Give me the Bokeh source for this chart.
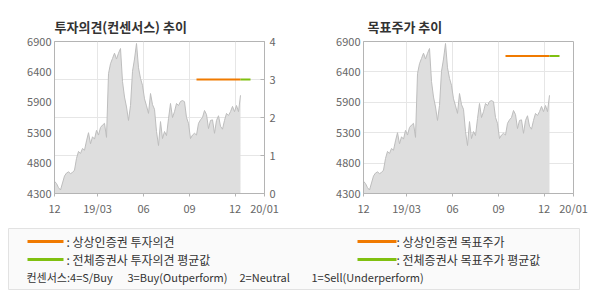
import numpy as np
import pandas as pd
from bokeh.plotting import figure
from bokeh.models import Range1d, LinearAxis, FixedTicker, Grid, ColumnDataSource
from bokeh.layouts import column, row
from bokeh.core.properties import value
from bokeh.embed import file_html
from bokeh.resources import INLINE

# ---------------- data ----------------
start_date = "2018-12-05"
price = [4510, 4470, 4400, 4360, 4480, 4600, 4650, 4670, 4640, 4660,
         4700, 4900, 5020, 4985, 5070, 5040, 5200, 5340, 5150, 5270,
         5230, 5380, 5300, 5430, 5470, 5500, 5260, 6350, 6520, 6610,
         6700, 6600, 6700, 6780, 6216, 5950, 5780, 5550, 5805, 6390,
         6600, 6866, 6450, 6270, 6150, 5920, 5800, 5670, 6010, 5820,
         5740, 5360, 5120, 5530, 5240, 5360, 5290, 5580, 5840, 5600,
         5700, 5840, 5805, 5874, 5890, 5870, 5600, 5500, 5240, 5300,
         5330, 5300, 5500, 5560, 5600, 5720, 5650, 5410, 5550, 5560,
         5330, 5550, 5630, 5450, 5400, 5550, 5670, 5635, 5700, 5790,
         5700, 5805, 5700, 5980]
dates = pd.date_range(start_date, periods=len(price), freq="4D")

x_range_dates = ["2018-12-05", "2020-01-29"]
x_tick_dates = ["2018-12-05", "2019-03-01", "2019-06-01", "2019-09-01", "2019-12-01", "2020-01-29"]
x_tick_labels = ["12", "19/03", "06", "09", "12", "20/01"]

price_min, price_max = 4300, 6900
price_tick_labels = ["4300", "4800", "5300", "5900", "6400", "6900"]
opinion_ticks = [0, 1, 2, 3, 4]

firm_dates = ["2019-09-15", "2019-12-12"]
avg_dates = ["2019-12-12", "2020-01-01"]
firm_opinion = 3
avg_opinion = 3
firm_target = 6650
avg_target = 6650

ORANGE = "#f07a00"
GREEN = "#80c010"
FONT = "Noto Sans CJK KR"


def ms(d):
    return pd.Timestamp(d).value / 1e6


x_ticks = [ms(d) for d in x_tick_dates]
x_over = {t: l for t, l in zip(x_ticks, x_tick_labels)}
p_ticks = [int(v) for v in np.linspace(price_min, price_max, len(price_tick_labels))]
p_over = {t: l for t, l in zip(p_ticks, price_tick_labels)}

src = ColumnDataSource(dict(x=dates, y=price))


def style_axis(ax):
    ax.axis_line_color = "#b4b4b4"
    ax.major_tick_line_color = "#b4b4b4"
    ax.minor_tick_line_color = None
    ax.major_label_text_font = FONT
    ax.major_label_text_font_size = "11px"
    ax.major_label_text_color = "#666666"


def make_chart(title, width, bl, br):
    p = figure(width=width, height=220, output_backend="svg", toolbar_location=None,
               x_range=Range1d(ms(x_range_dates[0]), ms(x_range_dates[1])),
               y_range=Range1d(price_min, price_max),
               min_border_left=bl, min_border_right=br, min_border_top=41,
               min_border_bottom=27, title=title)
    p.title.text_font = FONT
    p.title.text_font_size = "13px"
    p.title.text_font_style = "bold"
    p.title.text_color = "#333333"
    p.title.standoff = 12
    p.outline_line_color = "#b4b4b4"
    p.background_fill_color = "white"
    p.border_fill_color = "white"

    p.xaxis.ticker = FixedTicker(ticks=x_ticks)
    p.xaxis.major_label_overrides = x_over
    p.xaxis.major_tick_in = 0
    p.xaxis.major_tick_out = 3
    p.xaxis.major_label_standoff = 3
    style_axis(p.xaxis[0])

    p.yaxis.ticker = FixedTicker(ticks=p_ticks)
    p.yaxis.major_label_overrides = p_over
    p.yaxis.major_tick_in = 0
    p.yaxis.major_tick_out = 0
    p.yaxis.major_label_standoff = 3
    style_axis(p.yaxis[0])

    p.xgrid.ticker = FixedTicker(ticks=x_ticks)
    p.xgrid.grid_line_color = "#e6e6e6"
    p.ygrid.grid_line_color = "#e6e6e6"

    p.varea(x="x", y1=price_min, y2="y", source=src, fill_color="#dedede")
    p.line(x="x", y="y", source=src, line_color="#bdbdbd", line_width=1)
    return p


# Left chart: investment opinion
p1 = make_chart("투자의견(컨센서스) 추이", 300, 54, 36)
p1.extra_y_ranges = {"op": Range1d(0, 4)}
rax = LinearAxis(y_range_name="op", ticker=FixedTicker(ticks=opinion_ticks))
rax.major_tick_in = 4
rax.major_tick_out = 0
rax.major_label_standoff = 5
style_axis(rax)
p1.add_layout(rax, "right")
p1.ygrid.visible = False
p1.add_layout(Grid(dimension=1, ticker=FixedTicker(ticks=opinion_ticks), y_range_name="op",
                   grid_line_color="#e6e6e6"))
p1.line(x=[pd.Timestamp(d) for d in firm_dates], y=[firm_opinion] * 2, y_range_name="op",
        line_color=ORANGE, line_width=2)
p1.line(x=[pd.Timestamp(d) for d in avg_dates], y=[avg_opinion] * 2, y_range_name="op",
        line_color=GREEN, line_width=2)

# Right chart: target price
p2 = make_chart("목표주가 추이", 290, 63, 17)
p2.title.offset = 4
p2.line(x=[pd.Timestamp(d) for d in firm_dates], y=[firm_target] * 2,
        line_color=ORANGE, line_width=2)
p2.line(x=[pd.Timestamp(d) for d in avg_dates], y=[avg_target] * 2,
        line_color=GREEN, line_width=2)

# Legend panel
p3 = figure(width=590, height=80, output_backend="svg", toolbar_location=None,
            x_range=Range1d(0, 590), y_range=Range1d(80, 0),
            min_border=0, outline_line_color=None)
p3.axis.visible = False
p3.grid.visible = False
p3.quad(left=[8], right=[579], top=[8], bottom=[69], fill_color="#fafafa",
        line_color="#e2e2e2", line_width=1)
p3.segment(x0=[27, 27, 357, 357], y0=[21, 39, 21, 39], x1=[63, 63, 396, 396],
           y1=[21, 39, 21, 39], line_color=[ORANGE, GREEN, ORANGE, GREEN], line_width=3)
legend_texts = [": 상상인증권 투자의견", ": 전체증권사 투자의견 평균값",
                ": 상상인증권 목표주가", ": 전체증권사 목표주가 평균값"]
p3.text(x=[66, 66, 396, 396], y=[21, 39, 21, 39], text=legend_texts,
        text_font=value(FONT), text_font_size="12px", text_color="#333333",
        text_baseline="middle", text_align="left")
note_texts = ["컨센서스:4=S/Buy", "3=Buy(Outperform)", "2=Neutral", "1=Sell(Underperform)"]
p3.text(x=[26, 127, 239, 311], y=[56, 56, 56, 56], text=note_texts,
        text_font=value(FONT), text_font_size="11px", text_color="#333333",
        text_baseline="middle", text_align="left")

layout = column(row(p1, p2), p3)
open("out.html", "w").write(file_html(layout, INLINE))
